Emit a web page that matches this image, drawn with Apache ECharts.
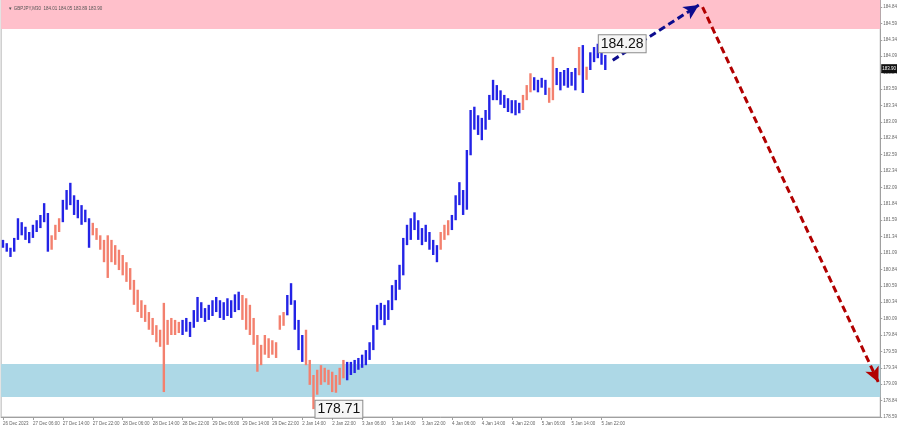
<!DOCTYPE html>
<html><head><meta charset="utf-8">
<script src="https://cdn.jsdelivr.net/npm/echarts@6/dist/echarts.min.js"></script>
<style>html,body{margin:0;padding:0;background:#fff}#c{width:900px;height:431px}</style>
</head><body><div id="c"></div>
<script>
// ---- data ----
const chartTitle = "\u25BC GBPJPY,M30  184.01 184.05 183.89 183.90";
const timeLabels = ["26 Dec 2023","27 Dec 06:00","27 Dec 14:00","27 Dec 22:00","28 Dec 06:00","28 Dec 14:00","28 Dec 22:00","29 Dec 06:00","29 Dec 14:00","29 Dec 22:00","2 Jan 14:00","2 Jan 22:00","3 Jan 06:00","3 Jan 14:00","3 Jan 22:00","4 Jan 06:00","4 Jan 14:00","4 Jan 22:00","5 Jan 06:00","5 Jan 14:00","5 Jan 22:00"];
const barsPerLabel = 8;
const slotCount = 235;
const barHigh = [181.29,181.24,181.17,181.32,181.62,181.56,181.49,181.41,181.52,181.59,181.67,181.85,181.70,181.36,181.52,181.62,181.90,182.05,182.16,181.97,181.90,181.82,181.75,181.62,181.55,181.47,181.36,181.29,181.36,181.29,181.21,181.14,181.06,180.95,180.86,180.68,180.53,180.37,180.30,180.19,180.10,179.99,179.92,180.33,180.07,180.10,180.07,180.04,180.07,180.10,180.04,180.22,180.42,180.34,180.25,180.30,180.37,180.42,180.37,180.34,180.40,180.37,180.46,180.50,180.45,180.40,180.30,180.10,179.84,179.69,179.84,179.79,179.76,179.73,180.14,180.19,180.45,180.63,180.37,180.07,179.84,179.92,179.46,179.23,179.31,179.38,179.34,179.31,179.28,179.23,179.34,179.46,179.43,179.43,179.46,179.49,179.54,179.61,179.73,179.99,180.30,180.33,180.30,180.37,180.60,180.68,180.91,181.32,181.52,181.62,181.71,181.59,181.47,181.52,181.41,181.29,181.21,181.41,181.52,181.59,181.67,181.97,182.17,182.05,182.66,183.27,183.32,183.19,183.15,183.27,183.50,183.73,183.65,183.57,183.50,183.45,183.42,183.42,183.38,183.50,183.65,183.83,183.77,183.73,183.76,183.73,183.61,184.08,183.91,183.85,183.88,183.91,183.85,183.91,184.23,184.26,183.93,184.15,184.23,184.28,184.18,184.11];
const barLow = [181.17,181.11,181.03,181.11,181.29,181.36,181.29,181.24,181.32,181.41,181.47,181.56,181.11,181.14,181.29,181.41,181.56,181.75,181.82,181.67,181.62,181.52,181.56,181.17,181.36,181.29,181.14,180.95,180.71,180.95,180.91,180.83,180.75,180.65,180.53,180.30,180.19,180.10,180.04,179.92,179.84,179.73,179.66,178.97,179.69,179.84,179.84,179.87,179.84,179.89,179.81,179.95,180.04,180.10,180.04,180.07,180.13,180.19,180.10,180.07,180.13,180.10,180.19,180.22,180.07,179.92,179.84,179.69,179.28,179.38,179.54,179.49,179.54,179.49,179.92,179.98,180.14,180.30,179.92,179.61,179.43,179.38,179.08,178.71,178.93,179.08,179.12,179.08,178.97,178.96,179.08,179.18,179.15,179.23,179.26,179.31,179.34,179.38,179.46,179.61,179.92,180.07,179.99,180.07,180.22,180.37,180.53,180.75,181.21,181.29,181.44,181.29,181.21,181.26,181.14,181.06,180.95,181.14,181.29,181.36,181.44,181.59,181.82,181.67,181.75,182.58,182.97,182.89,182.81,182.97,183.12,183.42,183.42,183.35,183.30,183.24,183.22,183.19,183.22,183.27,183.42,183.54,183.57,183.54,183.61,183.50,183.38,183.42,183.65,183.57,183.64,183.61,183.64,183.57,183.80,183.53,183.73,183.88,184.00,184.06,183.96,183.88];
// last index of each wave segment; segments alternate impulse / correction starting with impulse
const waveEnds = [12,15,23,47,63,75,80,91,116,119,138,141,145,147,153,154,155,156,161];
const resistanceZone = [184.505, 184.947];
const supportZone = [178.895, 179.398];
const highMark = [159, 184.28];
const lowMark = [83, 178.71];
const forecastUp = [[163, 184.03], [186, 184.87]];
const forecastDown = [[187, 184.84], [234, 179.12]];
const lastPrice = 183.90;
const yMin = 178.59, yMax = 184.947, yStep = 0.25;

// ---- chart ----
const IMPULSE = '#2323e6', CORRECTION = '#f3806e';
function waveColor(i){
  for (let s = 0; s < waveEnds.length; s++) if (i <= waveEnds[s]) return s % 2 === 0 ? IMPULSE : CORRECTION;
  return IMPULSE;
}
const cats = Array.from({length: slotCount}, (_, i) => String(i));
const showTick = (idx) => idx % barsPerLabel === 0 && idx / barsPerLabel < timeLabels.length;
const bars = barHigh.map((h, i) => [i, h, barLow[i]]);
const FONT = '"Liberation Sans", Arial, sans-serif';

const chart = echarts.init(document.getElementById('c'), null, {renderer: 'canvas'});
chart.setOption({
  animation: false,
  backgroundColor: '#fff',
  textStyle: {fontFamily: FONT},
  title: {text: chartTitle, left: 3, top: 1, textStyle: {fontSize: 4.5, color: '#555', fontWeight: 'normal', fontFamily: FONT}},
  grid: {left: 0, right: 18.75, top: 0, bottom: 14, show: true, borderColor: '#b4b4b4', borderWidth: 1, backgroundColor: '#fff'},
  xAxis: {
    type: 'category', data: cats, boundaryGap: true,
    axisLine: {show: true, lineStyle: {color: '#a0a0a0'}},
    axisTick: {show: true, alignWithLabel: true, length: 3, interval: showTick, lineStyle: {color: '#a0a0a0'}},
    axisLabel: {interval: showTick, formatter: (v, idx) => timeLabels[idx / barsPerLabel] || '', align: 'left',
      fontSize: 4.5, color: '#666', margin: 4, fontFamily: FONT},
    splitLine: {show: false}
  },
  yAxis: {
    type: 'value', position: 'right', min: yMin, max: yMax, interval: yStep,
    axisLine: {show: true, lineStyle: {color: '#a0a0a0'}},
    axisTick: {show: true, length: 2, lineStyle: {color: '#a0a0a0'}},
    axisLabel: {fontSize: 4.5, color: '#666', margin: 3, showMaxLabel: false, fontFamily: FONT,
      formatter: v => v.toFixed(2)},
    splitLine: {show: false}
  },
  series: [
    {
      type: 'line', data: [], z: 1, silent: true,
      markArea: {silent: true, data: [
        [{yAxis: resistanceZone[0], itemStyle: {color: '#ffc0cb'}}, {yAxis: resistanceZone[1]}],
        [{yAxis: supportZone[0], itemStyle: {color: '#add8e6'}}, {yAxis: supportZone[1]}]
      ]}
    },
    {
      type: 'custom', z: 3, silent: true,
      data: bars, encode: {x: 0, y: [1, 2]},
      renderItem: (params, api) => {
        const i = api.value(0);
        const a = api.coord([i, api.value(1)]);
        const b = api.coord([i, api.value(2)]);
        return {type: 'line', shape: {x1: a[0], y1: a[1], x2: b[0], y2: b[1]},
          style: {stroke: waveColor(i), lineWidth: 2.4}};
      }
    },
    {
      type: 'line', data: [], z: 5, silent: true,
      markLine: {
        silent: true, symbol: ['none', 'arrow'], symbolSize: [11, 15],
        label: {show: false},
        data: [
          [{coord: forecastUp[0], lineStyle: {color: '#0c0c8e', width: 3, type: [7, 4]}}, {coord: forecastUp[1]}],
          [{coord: forecastDown[0], lineStyle: {color: '#b20000', width: 3, type: [7, 4]}}, {coord: forecastDown[1]}]
        ]
      },
      markPoint: {
        silent: true, symbol: 'circle', symbolSize: 0,
        label: {show: true, position: 'right', formatter: p => p.value.toFixed(2), fontSize: 14, fontFamily: FONT,
          color: '#111', backgroundColor: '#f6f6f6', borderColor: '#8c8c8c', borderWidth: 1, padding: [2, 2, 1, 2]},
        data: [
          {coord: highMark, value: highMark[1], label: {distance: 1}},
          {coord: lowMark, value: lowMark[1], label: {distance: 2}}
        ]
      }
    },
    {
      type: 'line', data: [], z: 6, silent: true,
      markLine: {
        silent: true, symbol: 'none',
        lineStyle: {color: 'rgba(0,0,0,0)', width: 0},
        label: {show: true, position: 'end', distance: 1, formatter: p => p.value.toFixed(2), fontSize: 4.5,
          color: '#fff', backgroundColor: '#111', padding: [2, 1], fontFamily: FONT},
        data: [{yAxis: lastPrice}]
      }
    }
  ]
});
</script></body></html>
